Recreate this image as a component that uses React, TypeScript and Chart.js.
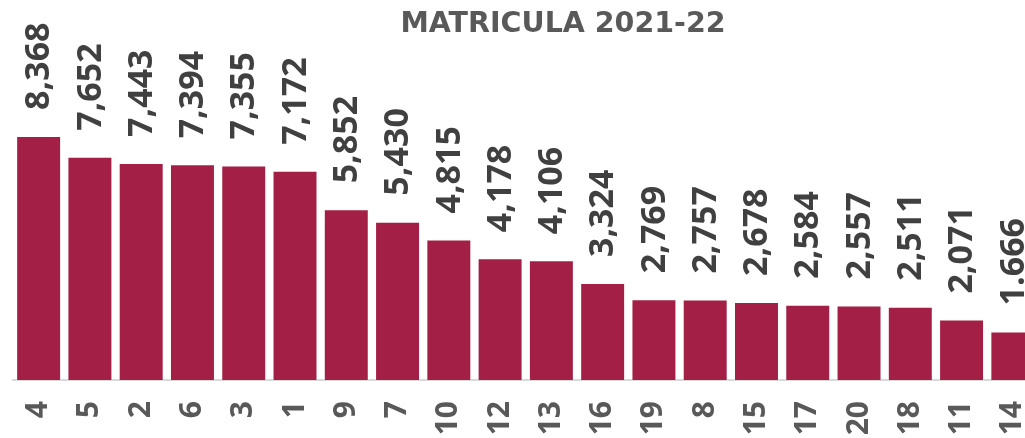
import React, { useEffect, useRef } from "react";
import { Chart, registerables } from "chart.js";

Chart.register(...registerables);

const TITLE = "MATRICULA 2021-22";
const categories = ["4", "5", "2", "6", "3", "1", "9", "7", "10", "12", "13", "16", "19", "8", "15", "17", "20", "18", "11", "14"];
const values = [8368, 7652, 7443, 7394, 7355, 7172, 5852, 5430, 4815, 4178, 4106, 3324, 2769, 2757, 2678, 2584, 2557, 2511, 2071, 1666];
const valueLabels = ["8,368", "7,652", "7,443", "7,394", "7,355", "7,172", "5,852", "5,430", "4,815", "4,178", "4,106", "3,324", "2,769", "2,757", "2,678", "2,584", "2,557", "2,511", "2,071", "1.666"];

const BAR_COLOR = "#A31F45";
const TEXT_GRAY = "#595959";
const LABEL_GRAY = "#404040";

const extrasPlugin = {
  id: "extras",
  afterDatasetsDraw(chart: any) {
    const ctx = chart.ctx;
    const meta = chart.getDatasetMeta(0);
    ctx.save();
    ctx.fillStyle = LABEL_GRAY;
    ctx.font = "bold 34px 'Open Sans'";
    ctx.textAlign = "left";
    ctx.textBaseline = "middle";
    meta.data.forEach((bar: any, i: number) => {
      ctx.save();
      ctx.translate(bar.x, bar.y - 26);
      ctx.rotate(-Math.PI / 2);
      ctx.fillText(valueLabels[i], 0, 1);
      ctx.restore();
    });
    ctx.restore();

    ctx.save();
    ctx.fillStyle = TEXT_GRAY;
    ctx.font = "bold 28.5px 'DejaVu Sans'";
    ctx.textAlign = "center";
    ctx.textBaseline = "middle";
    ctx.fillText(TITLE, 563, 25);
    ctx.restore();
  },
};

export default function App() {
  const ref = useRef<HTMLCanvasElement>(null);
  useEffect(() => {
    if (!ref.current) return;
    const chart = new Chart(ref.current, {
      type: "bar",
      data: {
        labels: categories,
        datasets: [
          {
            data: values,
            backgroundColor: BAR_COLOR,
            borderColor: "rgba(255,255,255,0.55)",
            borderWidth: 1,
            barPercentage: 0.877,
            categoryPercentage: 1,
          },
        ],
      },
      options: {
        animation: false,
        responsive: false,
        maintainAspectRatio: false,
        layout: { padding: { left: 13, right: 6, top: 30, bottom: 0 } },
        plugins: { legend: { display: false }, tooltip: { enabled: false }, title: { display: false } },
        scales: {
          x: {
            grid: { display: false, drawTicks: false },
            border: { display: true, color: "#D9D9D9", width: 2 },
            ticks: {
              color: TEXT_GRAY,
              font: { family: "'Open Sans'", weight: "bold", size: 30 },
              minRotation: 90,
              maxRotation: 90,
              padding: 21,
              autoSkip: false,
            },
            afterFit: (scale: any) => {
              scale.height = 100;
            },
          },
          y: {
            display: false,
            min: 0,
            max: 12000,
          },
        },
      },
      plugins: [extrasPlugin],
    });
    return () => chart.destroy();
  }, []);
  return (
    <div style={{ position: "fixed", left: 0, top: 0, width: 1025, height: 438, overflow: "hidden", background: "#fff" }}>
      <canvas ref={ref} width={1070} height={480} style={{ display: "block" }} />
    </div>
  );
}
